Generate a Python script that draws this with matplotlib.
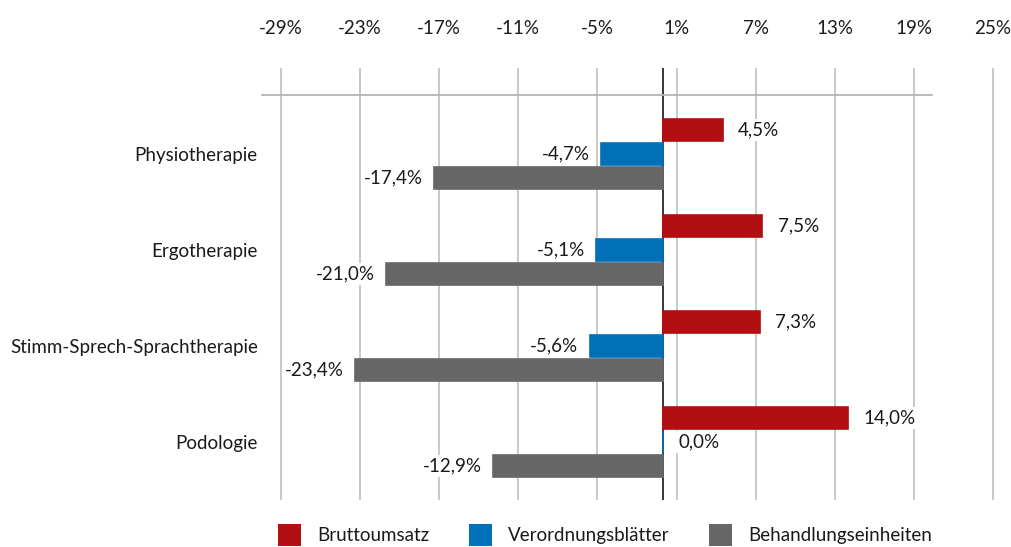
import matplotlib
matplotlib.use("Agg")
import matplotlib.pyplot as plt
import numpy as np
from matplotlib.lines import Line2D
from matplotlib.patches import Patch

plt.rcParams["font.family"] = ["Lato", "DejaVu Sans"]

CATEGORIES = ["Physiotherapie", "Ergotherapie", "Stimm-Sprech-Sprachtherapie", "Podologie"]
SERIES = ["Bruttoumsatz", "Verordnungsblätter", "Behandlungseinheiten"]
BRUTTOUMSATZ = [4.5, 7.5, 7.3, 14.0]
VERORDNUNGSBLAETTER = [-4.7, -5.1, -5.6, 0.0]
BEHANDLUNGSEINHEITEN = [-17.4, -21.0, -23.4, -12.9]
XTICKS = [-29, -23, -17, -11, -5, 1, 7, 13, 19, 25]

COLORS = ["#b20f12", "#0070b8", "#666666"]
TEXT_COLOR = "#1a1a1a"
GRID_COLOR = "#c4c4c4"
FS = 13.5

W, H = 1012, 547
fig = plt.figure(figsize=(W / 100, H / 100), dpi=100)
ax = fig.add_axes([262 / W, (H - 500) / H, (1000 - 262) / W, (500 - 68) / H])

px_per_unit = (993 - 281) / 54
x_left = -29 - (281 - 262) / px_per_unit
x_right = 25 + (1000 - 993) / px_per_unit
ax.set_xlim(x_left, x_right)
ax.set_ylim(3.604, -0.896)

y = np.arange(len(CATEGORIES))
offsets = [-0.25, 0.0, 0.25]
values = [BRUTTOUMSATZ, VERORDNUNGSBLAETTER, BEHANDLUNGSEINHEITEN]

for ser, vals, off, col in zip(SERIES, values, offsets, COLORS):
    ax.barh(y + off, vals, height=0.23, color=col, edgecolor=col,
            linewidth=1.2, zorder=6)
    for yi, v in zip(y, vals):
        lbl = f"{v:.1f}%".replace(".", ",")
        if v >= 0:
            ax.annotate(lbl, (v, yi + off), xytext=(11, 0), textcoords="offset points",
                        ha="left", va="center", fontsize=FS, color=TEXT_COLOR,
                        bbox=dict(boxstyle="square,pad=0.15", fc="white", ec="none"),
                        zorder=4)
        else:
            ax.annotate(lbl, (v, yi + off), xytext=(-8, 0), textcoords="offset points",
                        ha="right", va="center", fontsize=FS, color=TEXT_COLOR,
                        bbox=dict(boxstyle="square,pad=0.15", fc="white", ec="none"),
                        zorder=4)

# vertical gridlines and zero line
for t in XTICKS:
    ax.axvline(t, color=GRID_COLOR, linewidth=1.3, zorder=1)
ax.axvline(0, color="black", linewidth=1.1, zorder=5)

ax.xaxis.tick_top()
ax.set_xticks(XTICKS)
ax.set_xticklabels([f"{t}%" for t in XTICKS])
ax.tick_params(axis="x", length=0, pad=22, labelsize=FS, colors=TEXT_COLOR)
ax.set_yticks(y)
ax.set_yticklabels(CATEGORIES)
ax.tick_params(axis="y", length=0, pad=3, labelsize=FS, colors=TEXT_COLOR)
for s in ax.spines.values():
    s.set_visible(False)

# gray horizontal rule below the tick labels
fig.add_artist(Line2D([262 / W, 932 / W], [(H - 95) / H, (H - 95) / H],
                      color="#b4b4b4", linewidth=1.3))

handles = [Patch(facecolor=c, edgecolor="none") for c in COLORS]
fig.legend(handles, SERIES, loc="center", bbox_to_anchor=(605 / W, (H - 535) / H),
           ncol=3, frameon=False, fontsize=FS, handlelength=1.23, handleheight=1.51,
           handletextpad=0.85, columnspacing=2.13, labelcolor=TEXT_COLOR,
           borderpad=0, borderaxespad=0)

fig.savefig("out.png", dpi=100)
